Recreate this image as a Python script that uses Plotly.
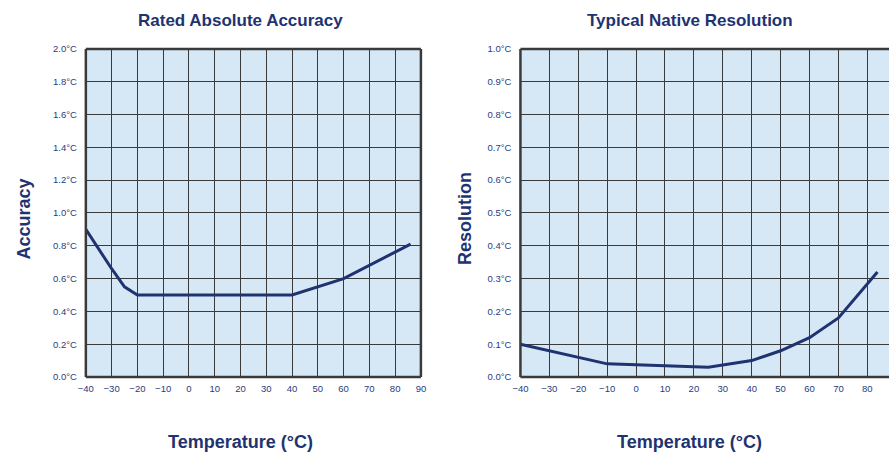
import plotly.graph_objects as go

# Data
acc_temp = [-40, -30, -25, -20, 40, 60, 86]
acc_val = [0.90, 0.66, 0.55, 0.50, 0.50, 0.60, 0.81]

res_temp = [-40, -10, 25, 40, 50, 60, 70, 83.5]
res_val = [0.10, 0.04, 0.03, 0.05, 0.08, 0.12, 0.18, 0.32]

left_title = "Rated Absolute Accuracy"
right_title = "Typical Native Resolution"
x_title = "Temperature (°C)"

NAVY = "#1f3370"
TXT = "#2a3b7c"
GRID = "#3a3a3a"
BG = "#d6e8f5"

W, H = 894, 464
def px(x):
    return x / W
def py(y):
    return 1 - y / H

fig = go.Figure()
fig.add_trace(go.Scatter(x=acc_temp, y=acc_val, mode="lines",
                         line=dict(color=NAVY, width=3), xaxis="x", yaxis="y",
                         showlegend=False, hoverinfo="skip"))
fig.add_trace(go.Scatter(x=res_temp, y=res_val, mode="lines",
                         line=dict(color=NAVY, width=3), xaxis="x2", yaxis="y2",
                         showlegend=False, hoverinfo="skip"))

tickfont = dict(family="Liberation Sans Narrow, Liberation Sans, Arial", size=9.5, color=TXT)
ydom = [py(380), py(44)]

common_x = dict(showgrid=True, gridcolor=GRID, gridwidth=1, zeroline=False,
                ticks="", tickfont=tickfont, ticklabelstandoff=5,
                showline=False, dtick=10, tick0=0)
common_y = dict(showgrid=True, gridcolor=GRID, gridwidth=1, zeroline=False,
                ticks="", tickfont=tickfont, ticklabelstandoff=8,
                showline=False, tickformat=".1f", ticksuffix="°C")

fig.update_layout(
    width=W, height=H, margin=dict(l=0, r=0, t=0, b=0),
    paper_bgcolor="white", plot_bgcolor=BG,
    xaxis=dict(domain=[px(79), px(419)], range=[-40, 90], anchor="y", **common_x),
    yaxis=dict(domain=ydom, range=[0, 2.0], dtick=0.2, anchor="x", **common_y),
    xaxis2=dict(domain=[px(520), 1.0], range=[-40, 87.5], anchor="y2", **common_x),
    yaxis2=dict(domain=ydom, range=[0, 1.0], dtick=0.1, anchor="x2", **common_y),
)

shapes = []
for xr, yr, sides in [("x", "y", ["l", "r", "t", "b"]), ("x2", "y2", ["l", "t", "b"])]:
    xd = xr + " domain"
    yd = yr + " domain"
    segs = {"l": (0, 0, 0, 1), "r": (1, 0, 1, 1), "t": (0, 1, 1, 1), "b": (0, 0, 1, 0)}
    for s in sides:
        x0, y0, x1, y1 = segs[s]
        shapes.append(dict(type="line", xref=xd, yref=yd, x0=x0, y0=y0, x1=x1, y1=y1,
                           line=dict(color="#3a3a3a", width=2.5), layer="above"))
fig.update_layout(shapes=shapes)

title_font = dict(family="Liberation Sans, Arial", size=17, color=NAVY)
axis_font = dict(family="Liberation Sans, Arial", size=18, color=NAVY)
ann = [
    dict(text="<b>%s</b>" % left_title, x=px(236), y=py(15), font=title_font),
    dict(text="<b>%s</b>" % right_title, x=px(692), y=py(15), font=title_font),
    dict(text="<b>%s</b>" % x_title, x=px(236), y=py(447), font=axis_font),
    dict(text="<b>%s</b>" % x_title, x=px(692), y=py(447), font=axis_font),
    dict(text="<b>Accuracy</b>", x=px(16), y=py(218), font=axis_font, textangle=-90),
    dict(text="<b>Resolution</b>", x=px(464), y=py(218), font=axis_font, textangle=-90),
]
for a in ann:
    a.update(xref="paper", yref="paper", showarrow=False, xanchor="center", yanchor="middle")
fig.update_layout(annotations=ann)

post = (
    "document.body.style.margin='0';document.body.style.padding='0';"
    "document.body.style.overflow='hidden';"
)
fig.write_html("out.html", config={"displayModeBar": False}, post_script=post)
